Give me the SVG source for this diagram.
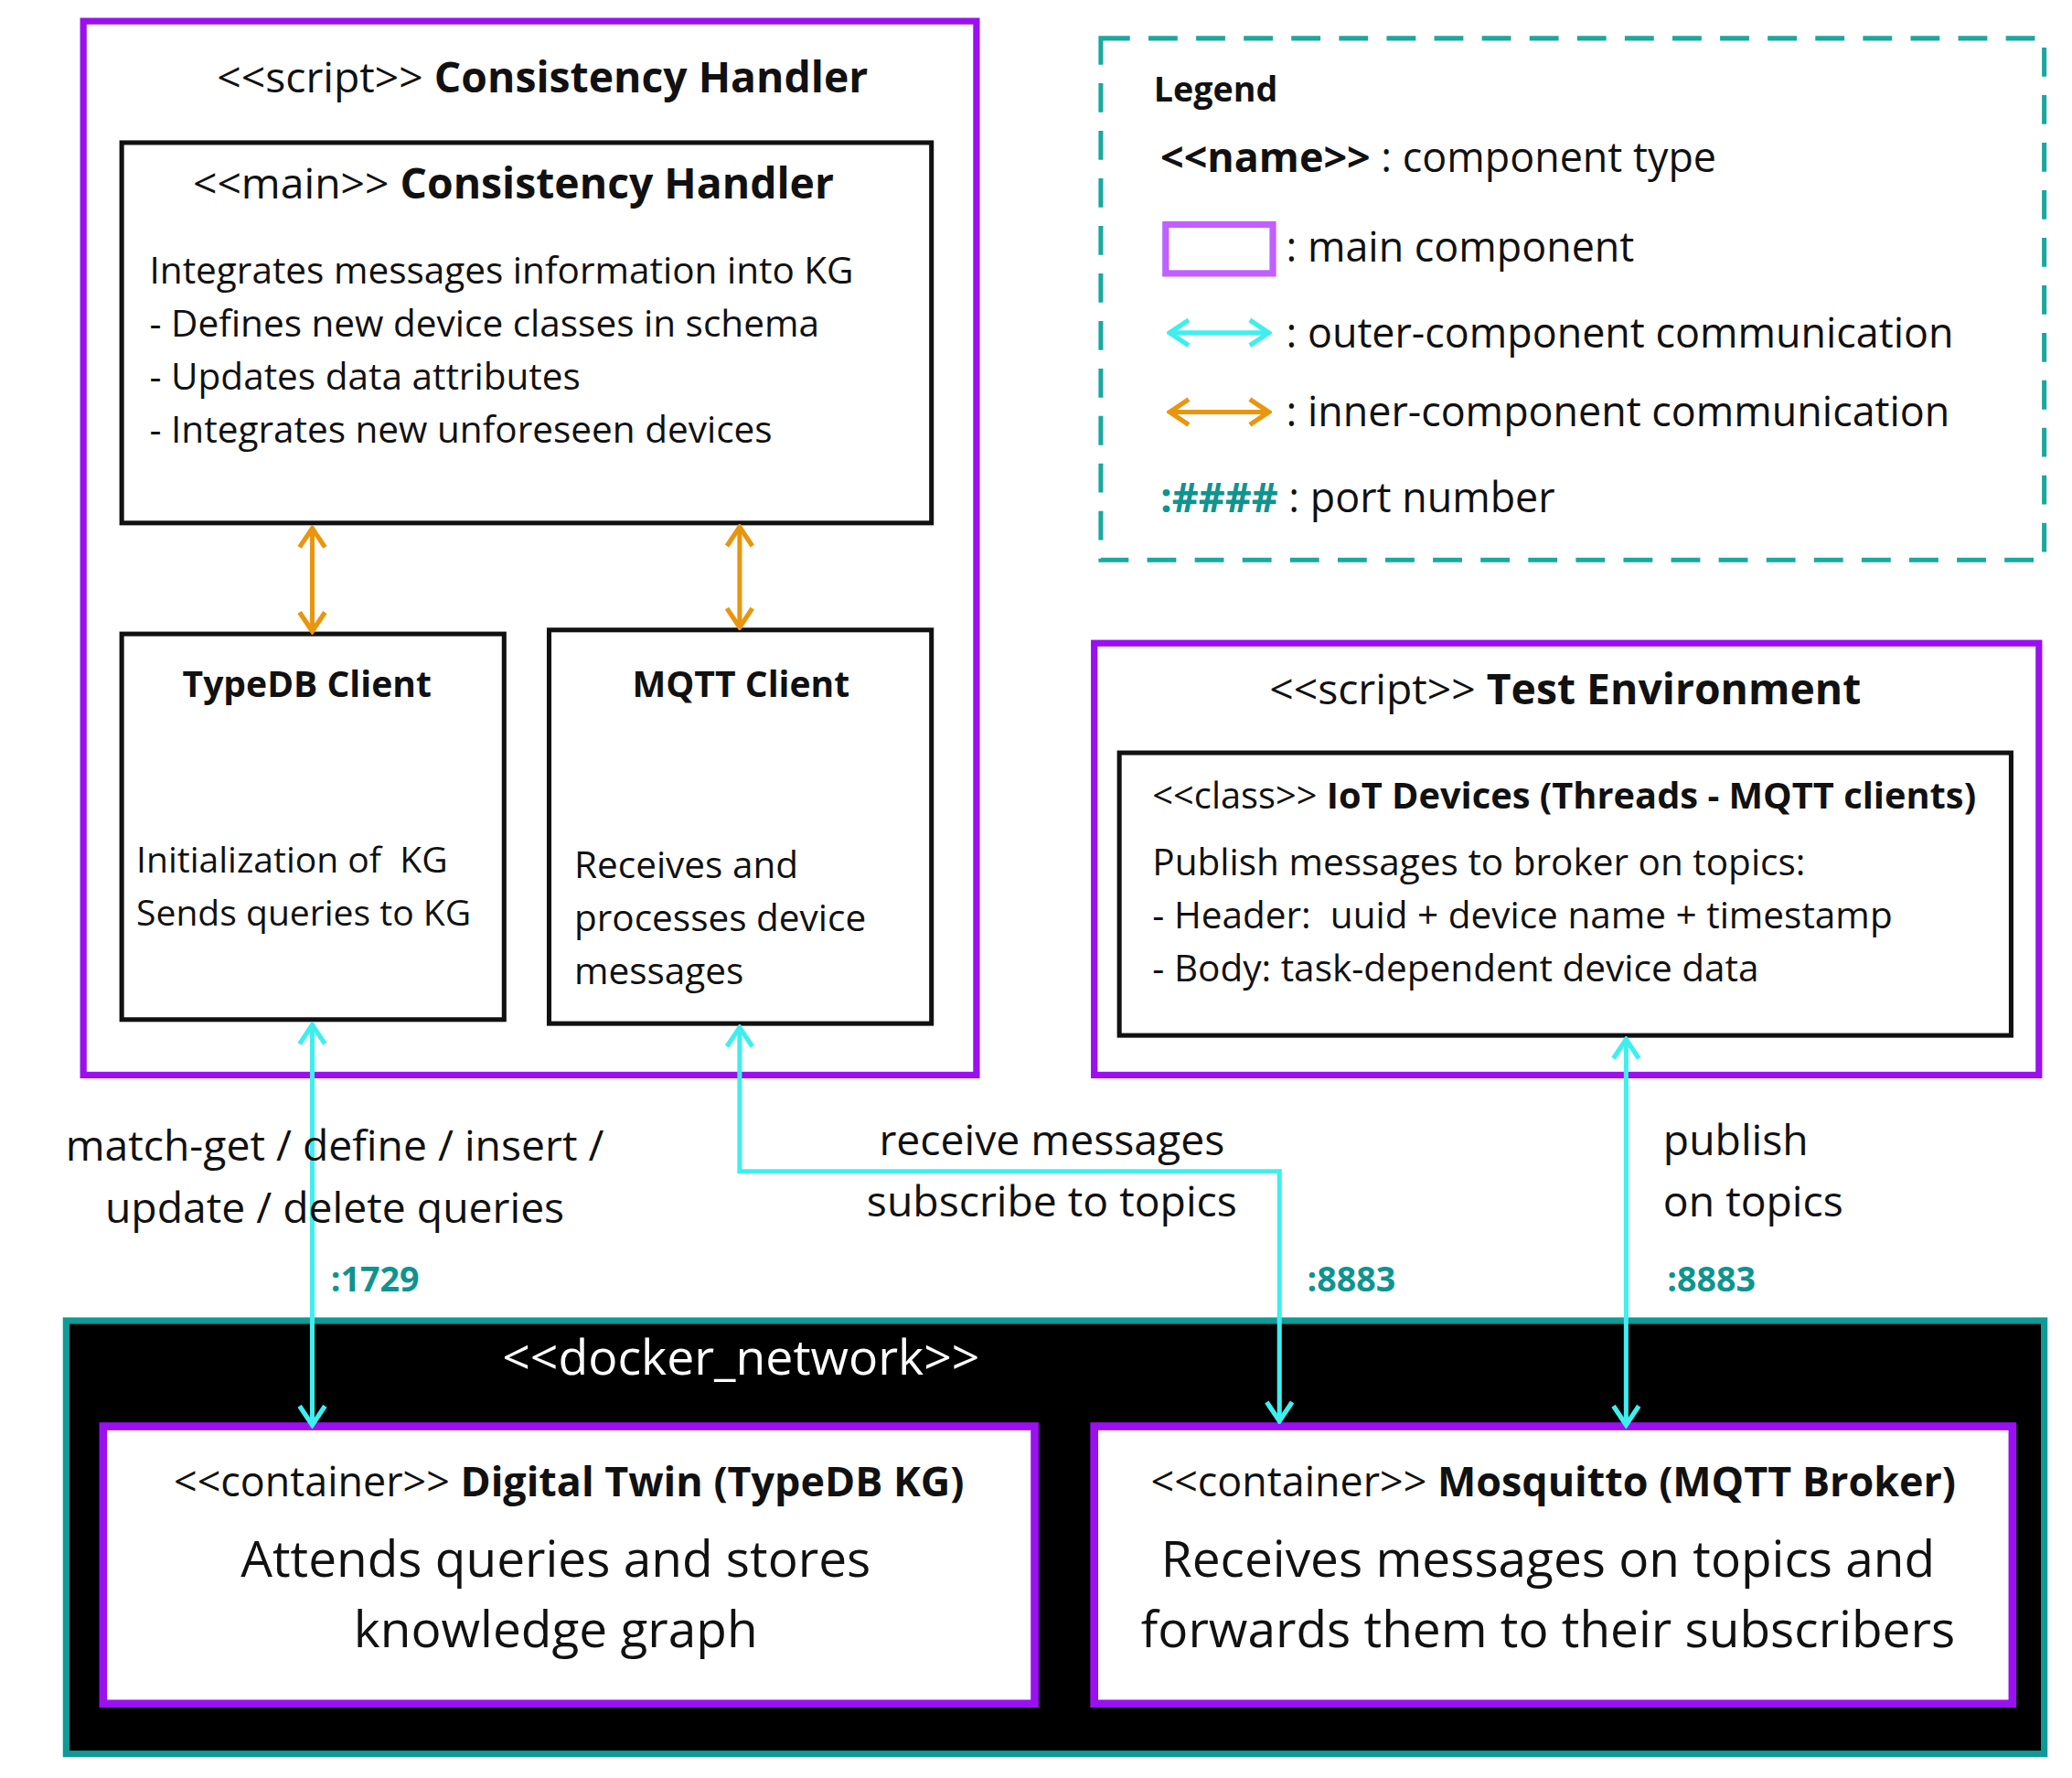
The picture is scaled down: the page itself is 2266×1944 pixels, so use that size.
<svg xmlns="http://www.w3.org/2000/svg" width="2266" height="1944" viewBox="0 0 2266 1944">
<style>
text{font-family:"Open Sans","Liberation Sans",sans-serif;fill:#111;white-space:pre}
.b{font-weight:bold}
.purple{fill:none;stroke:#9A10F0;stroke-width:5}
.blk{fill:#fff;stroke:#111;stroke-width:3.5}
.cy{fill:none;stroke:#40EEEE;stroke-width:3.5}
.or{fill:none;stroke:#E8960F;stroke-width:3.5}
.port{fill:#0E9490;font-weight:bold;font-size:26px}
</style>
<defs>
<marker id="ac" viewBox="0 0 20 20" refX="18" refY="10" markerWidth="24" markerHeight="24" orient="auto-start-reverse" markerUnits="userSpaceOnUse"><path d="M6,2 L18,10 L6,18" fill="none" stroke="#40EEEE" stroke-width="3"/></marker>
<marker id="ao" viewBox="0 0 20 20" refX="18" refY="10" markerWidth="24" markerHeight="24" orient="auto-start-reverse" markerUnits="userSpaceOnUse"><path d="M6,2 L18,10 L6,18" fill="none" stroke="#E8960F" stroke-width="3"/></marker>
</defs>
<rect width="2266" height="1944" fill="#fff"/>
<g transform="scale(1.447,1.444)">
<g id="consistency-handler">
<rect class="purple" x="63" y="16" width="675" height="798" fill="#fff"/>
<text x="410" y="70" font-size="32" text-anchor="middle">&lt;&lt;script&gt;&gt; <tspan class="b">Consistency Handler</tspan></text>
</g>
<g id="main-handler">
<rect class="blk" x="92" y="108" width="612" height="288"/>
<text x="388" y="150" font-size="32" text-anchor="middle">&lt;&lt;main&gt;&gt; <tspan class="b">Consistency Handler</tspan></text>
<text x="113" y="215" font-size="28">Integrates messages information into KG</text>
<text x="113" y="255" font-size="28">- Defines new device classes in schema</text>
<text x="113" y="295" font-size="28">- Updates data attributes</text>
<text x="113" y="335" font-size="28">- Integrates new unforeseen devices</text>
</g>
<g id="typedb-client">
<rect class="blk" x="92" y="480" width="289" height="292"/>
<text x="232" y="528" font-size="27" class="b" text-anchor="middle">TypeDB Client</text>
<text x="103" y="661" font-size="27">Initialization of  KG</text>
<text x="103" y="701" font-size="27">Sends queries to KG</text>
</g>
<g id="mqtt-client">
<rect class="blk" x="415" y="477" width="289" height="298"/>
<text x="560" y="528" font-size="27" class="b" text-anchor="middle">MQTT Client</text>
<text x="434" y="665" font-size="28">Receives and</text>
<text x="434" y="705" font-size="28">processes device</text>
<text x="434" y="745" font-size="28">messages</text>
</g>
<g id="legend">
<rect x="832" y="29" width="713" height="395" fill="none" stroke="#1AA8A0" stroke-width="3.5" stroke-dasharray="22,14"/>
<text x="872" y="77" font-size="26" class="b">Legend</text>
<text x="877" y="130" font-size="31"><tspan class="b">&lt;&lt;name&gt;&gt;</tspan> : component type</text>
<rect x="881" y="170" width="81" height="37" fill="none" stroke="#C060FF" stroke-width="5"/>
<text x="972" y="198" font-size="31">: main component</text>
<line class="cy" x1="884" y1="252" x2="959" y2="252" marker-start="url(#ac)" marker-end="url(#ac)"/>
<text x="972" y="263" font-size="31">: outer-component communication</text>
<line class="or" x1="884" y1="312" x2="959" y2="312" marker-start="url(#ao)" marker-end="url(#ao)"/>
<text x="972" y="323" font-size="31">: inner-component communication</text>
<text x="877" y="388" font-size="31"><tspan class="b" fill="#0E9490">:####</tspan> : port number</text>
</g>
<g id="test-environment">
<rect class="purple" x="827" y="487" width="714" height="327" fill="#fff"/>
<text x="1183" y="533" font-size="32" text-anchor="middle">&lt;&lt;script&gt;&gt; <tspan class="b">Test Environment</tspan></text>
</g>
<g id="iot-devices">
<rect class="blk" x="846" y="570" width="674" height="214"/>
<text x="871" y="612" font-size="27.5">&lt;&lt;class&gt;&gt; <tspan class="b">IoT Devices (Threads - MQTT clients)</tspan></text>
<text x="871" y="663" font-size="28">Publish messages to broker on topics:</text>
<text x="871" y="703" font-size="28">- Header:  uuid + device name + timestamp</text>
<text x="871" y="743" font-size="28">- Body: task-dependent device data</text>
</g>
<g id="docker-network">
<rect x="50" y="1000" width="1495" height="328" fill="#000" stroke="#0E9A96" stroke-width="5"/>
<text x="560" y="1041" font-size="37" text-anchor="middle" style="fill:#fff">&lt;&lt;docker_network&gt;&gt;</text>
</g>
<g id="digital-twin">
<rect x="78" y="1080" width="704" height="210" fill="#fff" stroke="#9A10F0" stroke-width="6"/>
<text x="430" y="1133" font-size="31" text-anchor="middle">&lt;&lt;container&gt;&gt; <tspan class="b">Digital Twin (TypeDB KG)</tspan></text>
<text x="420" y="1194" font-size="38" text-anchor="middle">Attends queries and stores</text>
<text x="420" y="1247" font-size="38" text-anchor="middle">knowledge graph</text>
</g>
<g id="mosquitto">
<rect x="827" y="1080" width="694" height="210" fill="#fff" stroke="#9A10F0" stroke-width="6"/>
<text x="1174" y="1133" font-size="31" text-anchor="middle">&lt;&lt;container&gt;&gt; <tspan class="b">Mosquitto (MQTT Broker)</tspan></text>
<text x="1170" y="1194" font-size="38" text-anchor="middle">Receives messages on topics and</text>
<text x="1170" y="1247" font-size="38" text-anchor="middle">forwards them to their subscribers</text>
</g>
<g id="connectors">
<line class="or" x1="236" y1="400" x2="236" y2="478" marker-start="url(#ao)" marker-end="url(#ao)"/>
<line class="or" x1="559" y1="399" x2="559" y2="475" marker-start="url(#ao)" marker-end="url(#ao)"/>
<line class="cy" x1="236" y1="776" x2="236" y2="1079" marker-start="url(#ac)" marker-end="url(#ac)"/>
<polyline class="cy" points="559,778 559,887 967,887 967,1076" marker-start="url(#ac)" marker-end="url(#ac)"/>
<line class="cy" x1="1229" y1="787" x2="1229" y2="1079" marker-start="url(#ac)" marker-end="url(#ac)"/>
<text x="253" y="879" font-size="32" text-anchor="middle">match-get / define / insert /</text>
<text x="253" y="926" font-size="32" text-anchor="middle">update / delete queries</text>
<text x="250" y="978" class="port">:1729</text>
<text x="795" y="875" font-size="32" text-anchor="middle">receive messages</text>
<text x="795" y="921" font-size="32" text-anchor="middle">subscribe to topics</text>
<text x="988" y="978" class="port">:8883</text>
<text x="1257" y="875" font-size="32">publish</text>
<text x="1257" y="921" font-size="32">on topics</text>
<text x="1260" y="978" class="port">:8883</text>
</g>
</g>
</svg>
